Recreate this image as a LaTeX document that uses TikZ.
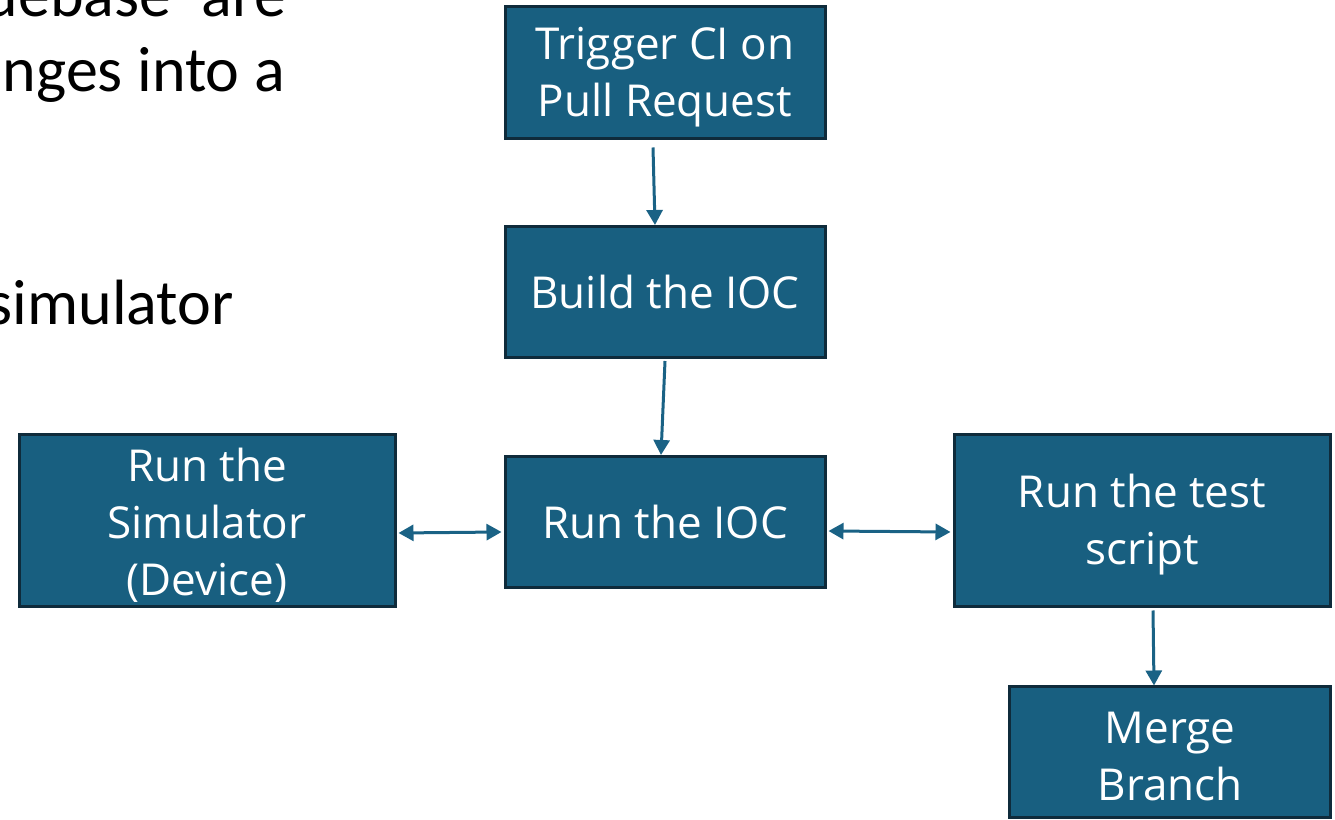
\documentclass[tikz,border=0pt]{standalone}
\usepackage{fontspec}
\setmainfont{Carlito}
\newfontfamily\boxfont{Open Sans}
\usetikzlibrary{arrows.meta}
\definecolor{boxfill}{HTML}{185F80}
\definecolor{boxedge}{HTML}{0F2B3B}
\definecolor{linkcol}{HTML}{1A6285}
% invisible strut that lowers multi-line labels a little inside their boxes
\newcommand{\boxstrut}{\rule{0pt}{41pt}}
\tikzset{
  stepbox/.style={draw=boxedge, line width=3pt, fill=boxfill, text=white,
    font=\boxfont\fontsize{44}{57}\selectfont, align=center, inner sep=0pt},
  link/.style={draw=linkcol, line width=3pt,
    -{Triangle[width=16pt,length=15pt]}},
  biglink/.style={draw=linkcol, line width=3pt,
    {Triangle[width=16pt,length=15pt]}-{Triangle[width=16pt,length=15pt]}},
  bodytext/.style={font=\fontsize{64}{75}\selectfont, inner sep=0pt, anchor=base east}
}
\begin{document}
\begin{tikzpicture}[x=1pt,y=1pt]
\useasboundingbox (0,0) rectangle (1335,819);
\clip (0,0) rectangle (1335,819);

% slide text running behind the flowchart
\node[bodytext] (t1) at (286,802) {debase' are};
\node[bodytext] (t2) at (285,727) {nges into a};
\node[bodytext] (t3) at (234,494) {simulator};

% process steps
\node[stepbox, minimum width=320pt, minimum height=132pt] (trig) at (665,746) {\boxstrut Trigger CI on\\Pull Request};
\node[stepbox, minimum width=320pt, minimum height=131pt] (build) at (665,527) {Build the IOC};
\node[stepbox, minimum width=320pt, minimum height=131pt] (ioc) at (665,297) {Run the IOC};
\node[stepbox, minimum width=376pt, minimum height=172pt] (sim) at (207,298) {\boxstrut Run the\\Simulator\\(Device)};
\node[stepbox, minimum width=376pt, minimum height=172pt] (test) at (1142,298) {\boxstrut Run the test\\script};
\node[stepbox, minimum width=321pt, minimum height=130pt] (merge) at (1170,67) {\boxstrut Merge\\Branch};

% connectors
\draw[link] ([xshift=-12pt,yshift=-7pt]trig.south) -- ([xshift=-10pt]build.north);
\draw[link] ([yshift=-2pt]build.south) -- ([xshift=-4pt]ioc.north);
\draw[biglink] ([xshift=2pt,yshift=-12pt]sim.east) -- ([xshift=-2pt,yshift=-10pt]ioc.west);
\draw[biglink] ([xshift=2pt,yshift=-9pt]ioc.east) -- ([xshift=-2pt,yshift=-11pt]test.west);
\draw[link] ([xshift=11pt,yshift=-2pt]test.south) -- ([xshift=-16pt]merge.north);
\end{tikzpicture}
\end{document}
